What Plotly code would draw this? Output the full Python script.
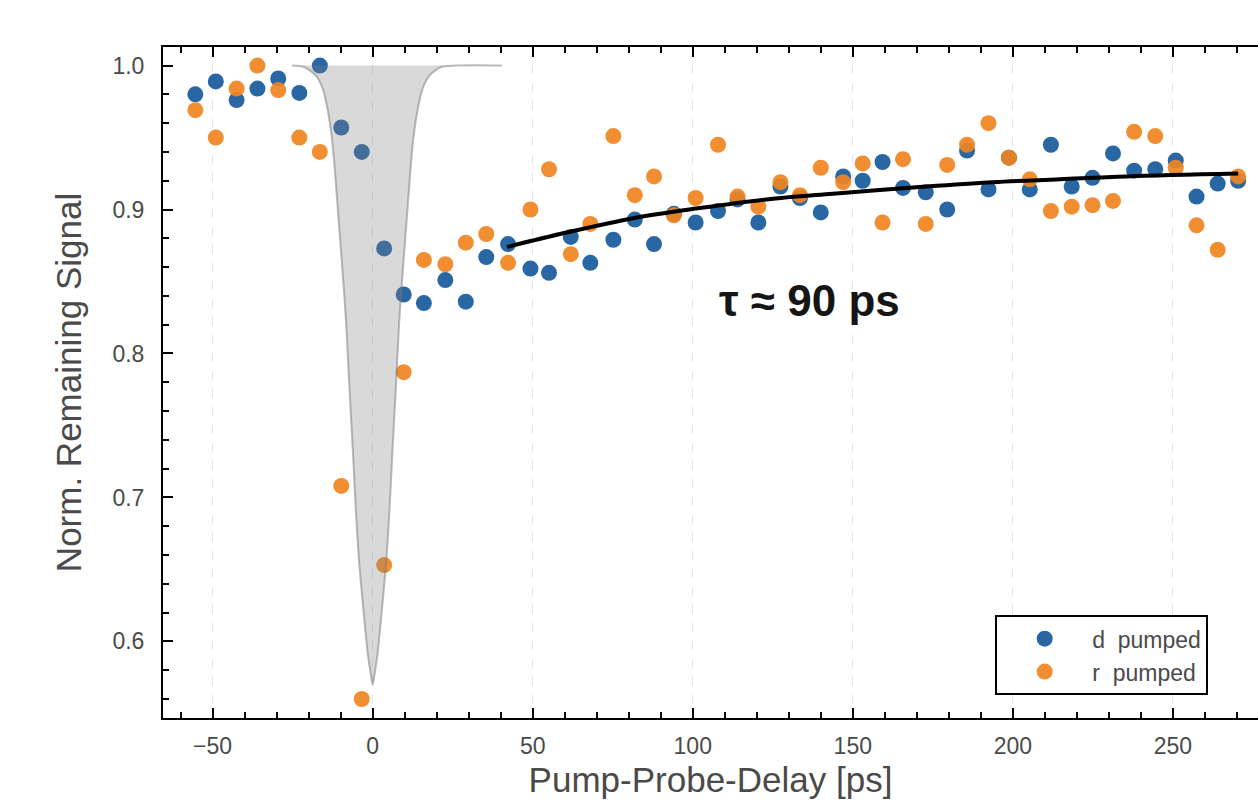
import plotly.graph_objects as go

# Pump-probe delays [ps]
delay = [-55.4, -49.0, -42.5, -36.0, -29.5, -22.9, -16.5, -9.8, -3.4, 3.6, 9.7, 16.0,
         22.7, 29.1, 35.5, 42.3, 49.3, 55.1, 61.9, 68.0, 75.2, 81.9, 87.9, 94.1, 100.9,
         107.9, 114.0, 120.5, 127.4, 133.5, 140.0, 147.0, 153.1, 159.3, 165.7, 172.8,
         179.5, 185.7, 192.4, 198.8, 205.3, 211.9, 218.4, 224.9, 231.3, 237.9, 244.5,
         250.9, 257.4, 264.0, 270.4]

d_pumped = [0.980, 0.989, 0.976, 0.984, 0.991, 0.981, 1.000, 0.957, 0.940, 0.873, 0.841,
            0.835, 0.851, 0.836, 0.867, 0.876, 0.859, 0.856, 0.881, 0.863, 0.879, 0.893,
            0.876, 0.897, 0.891, 0.899, 0.907, 0.891, 0.916, 0.908, 0.898, 0.923, 0.920,
            0.933, 0.915, 0.912, 0.900, 0.941, 0.914, 0.936, 0.914, 0.945, 0.916, 0.922,
            0.939, 0.927, 0.928, 0.934, 0.909, 0.918, 0.920]

r_pumped = [0.969, 0.950, 0.984, 1.000, 0.983, 0.950, 0.940, 0.708, 0.560, 0.653, 0.787,
            0.865, 0.862, 0.877, 0.883, 0.863, 0.900, 0.928, 0.869, 0.890, 0.951, 0.910,
            0.923, 0.896, 0.908, 0.945, 0.909, 0.902, 0.919, 0.910, 0.929, 0.919, 0.932,
            0.891, 0.935, 0.890, 0.931, 0.945, 0.960, 0.936, 0.921, 0.899, 0.902, 0.903,
            0.906, 0.954, 0.951, 0.929, 0.889, 0.872, 0.923]

# Exponential recovery fit (tau ~ 90 ps)
fit_t = [42.0, 60.5, 81.4, 102.2, 123.0, 143.8, 173.0, 193.8, 214.7, 235.5, 270.4]
fit_y = [0.874, 0.884, 0.894, 0.901, 0.907, 0.911, 0.916, 0.919, 0.921, 0.923, 0.925]

# Pump pulse profile (shaded)
pulse_x = [-25.2, -21.4, -17.7, -15.6, -14.1, -12.7, -11.75, -10.6, -9.4, -8.3, -7.3,
           -6.25, -5.2, -4.2, -2.8, -1.56, -0.5, 0.0, 0.5, 1.56, 2.8, 4.2, 5.2, 6.25,
           7.3, 8.3, 9.4, 10.6, 11.75, 12.7, 14.1, 15.6, 17.7, 21.4, 40.4]
pulse_y = [1.0, 0.999, 0.993, 0.984, 0.970, 0.949, 0.926, 0.892, 0.857, 0.822, 0.778,
           0.735, 0.689, 0.654, 0.620, 0.592, 0.576, 0.570, 0.576, 0.592, 0.620, 0.654,
           0.689, 0.735, 0.778, 0.822, 0.857, 0.892, 0.926, 0.949, 0.970, 0.984, 0.993,
           0.999, 1.0]

x_ticks = [-50, 0, 50, 100, 150, 200, 250]
y_ticks = [0.6, 0.7, 0.8, 0.9, 1.0]

BLUE = "#1c5e9f"
ORANGE = "#ef8420"
FONT = "Liberation Sans, Arial, Helvetica, sans-serif"
GREY_TXT = "#4a4a4a"

fig = go.Figure()
fig.add_trace(go.Scatter(x=delay, y=d_pumped, mode="markers", name="d  pumped",
                         marker=dict(color=BLUE, size=16, opacity=0.95)))
fig.add_trace(go.Scatter(x=delay, y=r_pumped, mode="markers", name="r  pumped",
                         marker=dict(color=ORANGE, size=16, opacity=0.92)))
fig.add_trace(go.Scatter(x=fit_t, y=fit_y, mode="lines", showlegend=False,
                         line=dict(color="black", width=4, shape="spline")))
fig.add_trace(go.Scatter(x=pulse_x, y=pulse_y, mode="lines", showlegend=False,
                         fill="toself", fillcolor="rgba(128,128,128,0.30)",
                         line=dict(color="rgba(120,120,120,0.5)", width=2, shape="spline",
                                   smoothing=0.6)))

fig.add_annotation(x=136.5, y=0.837, xref="x", yref="y", text="<b>τ ≈ 90 ps</b>",
                   showarrow=False, font=dict(family=FONT, size=44, color="#151515"))

axis_common = dict(showline=True, linecolor="black", linewidth=2, ticks="inside",
                   tickcolor="black", tickwidth=2, ticklen=10, zeroline=False,
                   tickfont=dict(family=FONT, size=23, color=GREY_TXT))

fig.update_xaxes(range=[-65.5, 276.6], tickvals=x_ticks, mirror="allticks",
                 showgrid=True, gridcolor="#dfe6ee", griddash="dash", gridwidth=1,
                 minor=dict(dtick=10, tick0=0, ticks="inside", ticklen=6, tickwidth=1.5,
                            tickcolor="black", showgrid=False),
                 title=dict(text="Pump-Probe-Delay [ps]", standoff=10,
                            font=dict(family=FONT, size=35, color=GREY_TXT)),
                 ticklabelstandoff=6, **axis_common)
fig.update_yaxes(range=[0.5468, 1.0129], tickvals=y_ticks, ticktext=["0.6", "0.7", "0.8", "0.9", "1.0"],
                 mirror=False, showgrid=False,
                 minor=dict(dtick=0.02, tick0=0.6, ticks="inside", ticklen=6, tickwidth=1.5,
                            tickcolor="black", showgrid=False),
                 title=dict(text="Norm. Remaining Signal", standoff=20,
                            font=dict(family=FONT, size=35, color=GREY_TXT)),
                 ticklabelstandoff=12, **axis_common)

fig.update_layout(
    width=1258, height=809,
    margin=dict(l=163, r=0, t=47, b=91, autoexpand=False),
    plot_bgcolor="white", paper_bgcolor="white",
    font=dict(family=FONT, color=GREY_TXT),
    showlegend=True,
    legend=dict(x=0.76, y=0.034, xanchor="left", yanchor="bottom",
                bgcolor="white", bordercolor="black", borderwidth=2,
                font=dict(family=FONT, size=23, color=GREY_TXT),
                itemwidth=85, tracegroupgap=0),
)

fig.write_html("out.html", config={"displayModeBar": False},
               post_script="document.body.style.margin='0px';document.body.style.overflow='hidden';")
